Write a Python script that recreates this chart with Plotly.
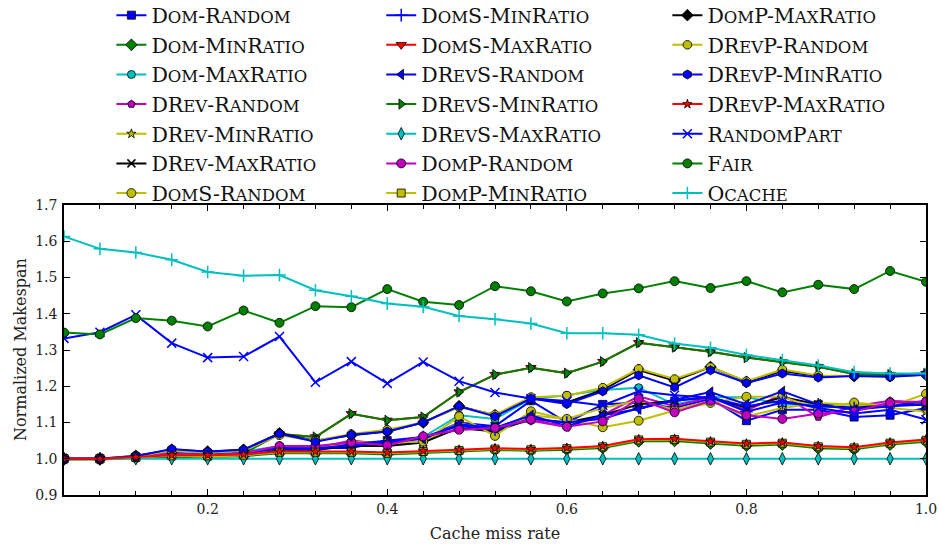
import plotly.graph_objects as go

x = [0.04, 0.08, 0.12, 0.16, 0.20, 0.24, 0.28, 0.32, 0.36, 0.40, 0.44, 0.48, 0.52,
     0.56, 0.60, 0.64, 0.68, 0.72, 0.76, 0.80, 0.84, 0.88, 0.92, 0.96, 1.00]

names = ["Dom-Random", "Dom-MinRatio", "Dom-MaxRatio", "DRev-Random", "DRev-MinRatio",
         "DRev-MaxRatio", "DomS-Random", "DomS-MinRatio", "DomS-MaxRatio", "DRevS-Random",
         "DRevS-MinRatio", "DRevS-MaxRatio", "DomP-Random", "DomP-MinRatio", "DomP-MaxRatio",
         "DRevP-Random", "DRevP-MinRatio", "DRevP-MaxRatio", "RandomPart", "Fair", "Ocache"]

dom_random = [1.0, 1.0, 1.005, 1.02, 1.015, 1.02, 1.03, 1.03, 1.03, 1.05, 1.055, 1.10, 1.09,
              1.16, 1.10, 1.15, 1.155, 1.14, 1.165, 1.105, 1.135, 1.135, 1.115, 1.12, 1.14]
dom_minratio = [0.998, 0.998, 1.002, 1.005, 1.005, 1.007, 1.015, 1.015, 1.015, 1.012, 1.017, 1.02, 1.024,
                1.022, 1.025, 1.03, 1.048, 1.049, 1.042, 1.036, 1.039, 1.029, 1.026, 1.039, 1.047]
dom_maxratio = [1.0, 1.0, 1.005, 1.02, 1.015, 1.02, 1.035, 1.03, 1.045, 1.045, 1.06, 1.12, 1.11,
                1.165, 1.175, 1.19, 1.196, 1.15, 1.17, 1.17, 1.15, 1.15, 1.15, 1.15, 1.15]
drev_random = [1.0, 1.0, 1.005, 1.015, 1.01, 1.015, 1.035, 1.03, 1.05, 1.04, 1.06, 1.08, 1.085,
               1.105, 1.088, 1.12, 1.172, 1.145, 1.17, 1.133, 1.177, 1.115, 1.145, 1.16, 1.155]
drev_minratio = [1.0, 1.0, 1.005, 1.01, 1.008, 1.012, 1.025, 1.022, 1.04, 1.04, 1.045, 1.10, 1.07,
                 1.12, 1.11, 1.14, 1.16, 1.135, 1.16, 1.117, 1.14, 1.154, 1.15, 1.14, 1.13]
drev_maxratio = [1.0, 1.0, 1.005, 1.012, 1.008, 1.012, 1.025, 1.025, 1.035, 1.035, 1.045, 1.085, 1.075,
                 1.11, 1.10, 1.12, 1.15, 1.16, 1.17, 1.14, 1.17, 1.15, 1.14, 1.15, 1.15]
doms_random = [1.0, 1.0, 1.005, 1.01, 1.005, 1.01, 1.03, 1.028, 1.045, 1.045, 1.047, 1.117, 1.063,
               1.131, 1.11, 1.087, 1.105, 1.133, 1.154, 1.171, 1.171, 1.137, 1.155, 1.145, 1.179]
doms_minratio = [1.0, 1.0, 1.005, 1.015, 1.01, 1.015, 1.03, 1.025, 1.04, 1.05, 1.06, 1.09, 1.08,
                 1.11, 1.10, 1.11, 1.14, 1.16, 1.17, 1.13, 1.155, 1.145, 1.14, 1.145, 1.15]
doms_maxratio = [1.0, 1.0, 1.005, 1.015, 1.01, 1.015, 1.068, 1.06, 1.124, 1.106, 1.115, 1.184, 1.232,
                 1.251, 1.236, 1.268, 1.320, 1.308, 1.295, 1.279, 1.267, 1.254, 1.234, 1.232, 1.235]
drevs_random = [1.0, 1.0, 1.005, 1.015, 1.01, 1.015, 1.028, 1.03, 1.035, 1.045, 1.055, 1.095, 1.085,
                1.12, 1.09, 1.12, 1.137, 1.163, 1.184, 1.15, 1.186, 1.15, 1.135, 1.145, 1.16]
drevs_minratio = [1.0, 1.0, 1.005, 1.015, 1.01, 1.015, 1.068, 1.06, 1.124, 1.106, 1.115, 1.184, 1.232,
                  1.251, 1.236, 1.268, 1.320, 1.308, 1.295, 1.279, 1.267, 1.254, 1.234, 1.232, 1.235]
drevs_maxratio = [1.0, 1.0, 1.0, 1.0, 1.0, 1.0, 1.0, 1.0, 1.0, 1.0, 1.0, 1.0, 1.0,
                  1.0, 1.0, 1.0, 1.0, 1.0, 1.0, 1.0, 1.0, 1.0, 1.0, 1.0, 1.0]
domp_random = [1.0, 1.0, 1.005, 1.015, 1.01, 1.015, 1.035, 1.035, 1.045, 1.037, 1.062, 1.08, 1.085,
               1.108, 1.088, 1.103, 1.165, 1.128, 1.16, 1.12, 1.11, 1.125, 1.13, 1.155, 1.158]
domp_minratio = [1.0, 1.0, 1.004, 1.008, 1.008, 1.01, 1.018, 1.018, 1.018, 1.015, 1.02, 1.023, 1.027,
                 1.025, 1.028, 1.033, 1.052, 1.053, 1.046, 1.040, 1.043, 1.033, 1.030, 1.043, 1.051]
domp_maxratio = [1.0, 1.0, 1.008, 1.025, 1.02, 1.025, 1.07, 1.05, 1.065, 1.075, 1.10, 1.145, 1.12,
                 1.166, 1.155, 1.19, 1.245, 1.215, 1.253, 1.212, 1.242, 1.228, 1.228, 1.228, 1.232]
drevp_random = [1.0, 1.0, 1.007, 1.022, 1.017, 1.022, 1.065, 1.05, 1.068, 1.08, 1.10, 1.142, 1.122,
                1.17, 1.174, 1.196, 1.248, 1.22, 1.253, 1.214, 1.246, 1.23, 1.228, 1.226, 1.232]
drevp_minratio = [1.0, 1.0, 1.007, 1.027, 1.019, 1.025, 1.069, 1.047, 1.066, 1.075, 1.10, 1.145, 1.117,
                  1.166, 1.151, 1.186, 1.23, 1.197, 1.244, 1.209, 1.235, 1.224, 1.228, 1.226, 1.232]
drevp_maxratio = [1.0, 1.0, 1.005, 1.01, 1.01, 1.012, 1.02, 1.02, 1.02, 1.017, 1.022, 1.025, 1.029,
                  1.027, 1.03, 1.035, 1.054, 1.055, 1.048, 1.042, 1.045, 1.035, 1.032, 1.045, 1.053]
random_part = [1.332, 1.349, 1.397, 1.319, 1.279, 1.282, 1.337, 1.211, 1.268, 1.208, 1.267, 1.214, 1.183,
               1.166, 1.159, 1.147, 1.186, 1.175, 1.168, 1.145, 1.160, 1.140, 1.125, 1.135, 1.108]
fair = [1.348, 1.343, 1.388, 1.381, 1.365, 1.409, 1.375, 1.421, 1.418, 1.468, 1.433, 1.424, 1.476,
        1.462, 1.434, 1.456, 1.470, 1.490, 1.471, 1.490, 1.459, 1.480, 1.468, 1.518, 1.488]
ocache = [1.613, 1.579, 1.569, 1.549, 1.515, 1.505, 1.507, 1.465, 1.448, 1.428, 1.419, 1.394, 1.385,
          1.373, 1.346, 1.346, 1.342, 1.318, 1.306, 1.286, 1.272, 1.257, 1.239, 1.235, 1.235]

series = [dom_random, dom_minratio, dom_maxratio, drev_random, drev_minratio, drev_maxratio,
          doms_random, doms_minratio, doms_maxratio, drevs_random, drevs_minratio, drevs_maxratio,
          domp_random, domp_minratio, domp_maxratio, drevp_random, drevp_minratio, drevp_maxratio,
          random_part, fair, ocache]

B, G, R, C, M, Y, K = "#0000ff", "#008000", "#ff0000", "#00bfbf", "#bf00bf", "#bfbf00", "#000000"
colors = [B, G, C, M, Y, K, Y, B, R, B, G, C, M, Y, K, Y, B, R, B, G, C]
symbols = ["square", "diamond", "circle", "pentagon", "star", "x-thin", "circle", "cross-thin",
           "triangle-down", "triangle-left", "triangle-right", "diamond-tall", "circle", "square",
           "diamond", "octagon", "hexagon", "star", "x-thin", "circle", "cross-thin"]
sizes = [8, 9, 8, 8, 7, 8, 9, 9, 9, 9, 9, 9, 9, 8, 9, 9, 9, 7, 9, 9, 9]

FONT = "DejaVu Serif, Liberation Serif, serif"


def small_caps(s, small=16.5):
    out = []
    buf = ""
    for ch in s:
        if ch.islower():
            buf += ch.upper()
        else:
            if buf:
                out.append('<span style="font-size:%gpx">%s</span>' % (small, buf))
                buf = ""
            out.append(ch)
    if buf:
        out.append('<span style="font-size:%gpx">%s</span>' % (small, buf))
    return "".join(out)


legend_ids = ["legend", "legend2", "legend3"]
nrows = 7
fig = go.Figure()
for i, (nm, ys) in enumerate(zip(names, series)):
    thin = symbols[i].endswith("-thin")
    fig.add_trace(go.Scatter(
        x=x, y=ys, mode="lines+markers", name=small_caps(nm),
        line=dict(color=colors[i], width=2),
        marker=dict(symbol=symbols[i], size=sizes[i], color=colors[i],
                    line=dict(color=colors[i] if thin else "#000000", width=1.5 if thin else 0.8)),
        legend=legend_ids[i // nrows],
    ))

leg_common = dict(orientation="v", xanchor="left", yanchor="top", y=1.723, itemwidth=30,
                  font=dict(family=FONT, size=20.5, color="#111111"),
                  bgcolor="rgba(0,0,0,0)", tracegroupgap=0, traceorder="normal")

fig.update_layout(
    width=939, height=547,
    margin=dict(l=64, r=13, t=205, b=52, autoexpand=False),
    paper_bgcolor="white", plot_bgcolor="white",
    font=dict(family=FONT, size=14, color="#222222"),
    showlegend=True,
    legend=dict(x=0.055, **leg_common),
    legend2=dict(x=0.368, **leg_common),
    legend3=dict(x=0.700, **leg_common),
    xaxis=dict(range=[0.04, 1.0], tickmode="array", tickvals=[0.2, 0.4, 0.6, 0.8, 1.0],
               ticktext=["0.2", "0.4", "0.6", "0.8", "1.0"],
               ticks="inside", ticklen=6, tickcolor="black", mirror="ticks",
               ticklabelstandoff=0, automargin=False,
               showline=True, linecolor="black", linewidth=1.5, showgrid=False, zeroline=False,
               minor=dict(dtick=0.04, tick0=0.0, ticks="inside", ticklen=4, tickcolor="black"),
               title=dict(text="Cache miss rate", font=dict(size=16), standoff=12)),
    yaxis=dict(range=[0.9, 1.7], tickmode="array",
               tickvals=[0.9, 1.0, 1.1, 1.2, 1.3, 1.4, 1.5, 1.6, 1.7],
               ticktext=["0.9", "1.0", "1.1", "1.2", "1.3", "1.4", "1.5", "1.6", "1.7"],
               ticks="inside", ticklen=6, tickcolor="black", mirror="ticks",
               ticklabelstandoff=2, automargin=False,
               showline=True, linecolor="black", linewidth=1.5, showgrid=False, zeroline=False),
    annotations=[dict(text="Normalized Makespan", xref="paper", yref="paper",
                      x=-0.051, y=0.5, xanchor="center", yanchor="middle",
                      textangle=-90, showarrow=False, font=dict(size=16, color="#222222"))],
)

fig.write_html("out.html", config={"displayModeBar": False},
               post_script="document.body.style.margin='0';document.body.style.padding='0';")
